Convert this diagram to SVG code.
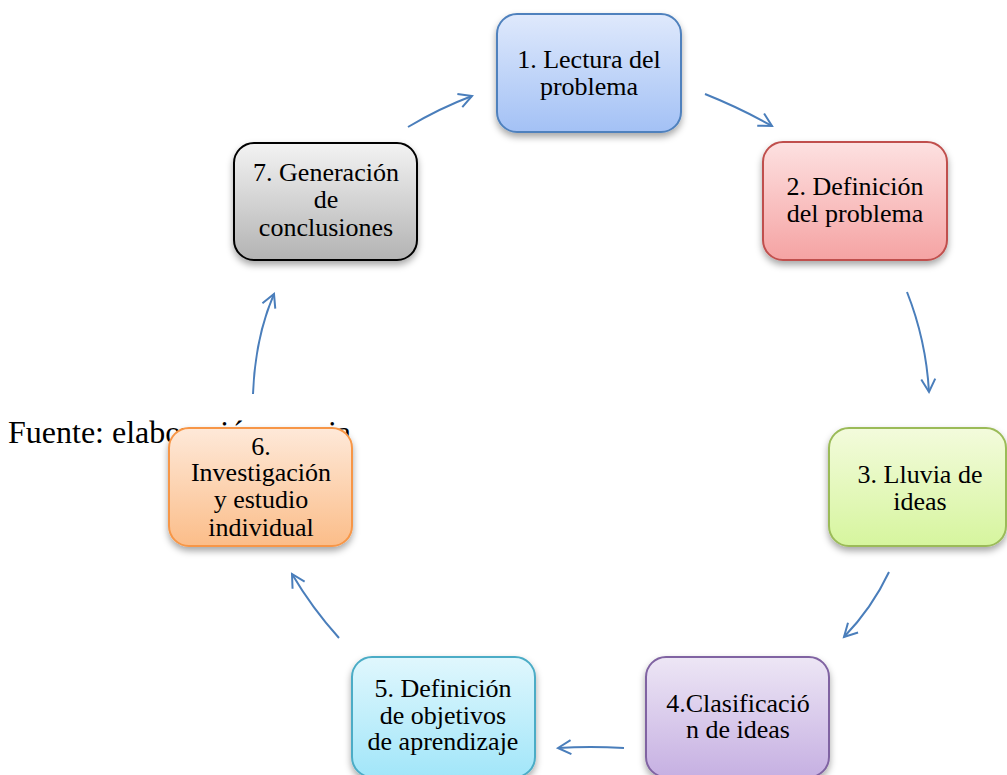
<svg xmlns="http://www.w3.org/2000/svg" width="1007" height="775" viewBox="0 0 1007 775">
<defs>
<style>
.t{font-family:"Liberation Serif","Times New Roman",serif;font-size:26px;fill:#000;text-anchor:middle}
.src{font-family:"Liberation Serif","Times New Roman",serif;font-size:32px;fill:#000}
.box{stroke-width:2}
.c{fill:none;stroke:#4a7ebb;stroke-width:2}
</style>
<filter id="sh" x="-20%" y="-20%" width="140%" height="150%">
<feDropShadow dx="0" dy="4" stdDeviation="3.5" flood-color="#000" flood-opacity="0.35"/>
</filter>
<marker id="ah" viewBox="-16 -10 20 20" refX="0" refY="0" markerWidth="20" markerHeight="20" markerUnits="userSpaceOnUse" orient="auto">
<path d="M-13,-7 L0,0 L-13,7" fill="none" stroke="#4a7ebb" stroke-width="2"/>
</marker>
<linearGradient id="g1" x1="0" y1="0" x2="0" y2="1"><stop offset="0" stop-color="#dfe9fc"/><stop offset="1" stop-color="#a3c1f5"/></linearGradient>
<linearGradient id="g2" x1="0" y1="0" x2="0" y2="1"><stop offset="0" stop-color="#fde1e1"/><stop offset="1" stop-color="#f5a3a3"/></linearGradient>
<linearGradient id="g3" x1="0" y1="0" x2="0" y2="1"><stop offset="0" stop-color="#f3fbdc"/><stop offset="1" stop-color="#d6f59e"/></linearGradient>
<linearGradient id="g4" x1="0" y1="0" x2="0" y2="1"><stop offset="0" stop-color="#ede6f5"/><stop offset="1" stop-color="#c6b0e2"/></linearGradient>
<linearGradient id="g5" x1="0" y1="0" x2="0" y2="1"><stop offset="0" stop-color="#e0f7fd"/><stop offset="1" stop-color="#a2e6f9"/></linearGradient>
<linearGradient id="g6" x1="0" y1="0" x2="0" y2="1"><stop offset="0" stop-color="#fee9d9"/><stop offset="1" stop-color="#fbbd89"/></linearGradient>
<linearGradient id="g7" x1="0" y1="0" x2="0" y2="1"><stop offset="0" stop-color="#f3f3f3"/><stop offset="1" stop-color="#b3b3b3"/></linearGradient>
</defs>
<rect width="1007" height="775" fill="#fff"/>
<text class="src" x="8" y="443">Fuente: elaboración propia</text>
<g id="connectors">
<path class="c" d="M408,127 Q440,108 472,96" marker-end="url(#ah)"/>
<path class="c" d="M705,94 Q740,108 772,126" marker-end="url(#ah)"/>
<path class="c" d="M907,292 Q926,340 929,392" marker-end="url(#ah)"/>
<path class="c" d="M889,572 Q872,608 844,637" marker-end="url(#ah)"/>
<path class="c" d="M624,748 Q590,746 558,748" marker-end="url(#ah)"/>
<path class="c" d="M339,638 Q312,608 292,574" marker-end="url(#ah)"/>
<path class="c" d="M253,394 Q255,338 274,294" marker-end="url(#ah)"/>
</g>
<g id="node1">
<rect class="box" x="497" y="14" width="184" height="118" rx="20" fill="url(#g1)" stroke="#4f81bd" filter="url(#sh)"/>
<text class="t" x="589" y="68">1. Lectura del</text>
<text class="t" x="589" y="95">problema</text>
</g>
<g id="node2">
<rect class="box" x="763" y="142" width="184" height="118" rx="20" fill="url(#g2)" stroke="#c0504d" filter="url(#sh)"/>
<text class="t" x="855" y="195">2. Definición</text>
<text class="t" x="855" y="222">del problema</text>
</g>
<g id="node3">
<rect class="box" x="829" y="428" width="177" height="118" rx="20" fill="url(#g3)" stroke="#9bbb59" filter="url(#sh)"/>
<text class="t" x="920" y="483">3. Lluvia de</text>
<text class="t" x="920" y="510">ideas</text>
</g>
<g id="node4">
<rect class="box" x="646" y="657" width="183" height="120" rx="20" fill="url(#g4)" stroke="#8064a2" filter="url(#sh)"/>
<text class="t" x="738" y="712">4.Clasificació</text>
<text class="t" x="738" y="738">n de ideas</text>
</g>
<g id="node5">
<rect class="box" x="352" y="657" width="183" height="120" rx="20" fill="url(#g5)" stroke="#4bacc6" filter="url(#sh)"/>
<text class="t" x="443" y="697">5. Definición</text>
<text class="t" x="443" y="724">de objetivos</text>
<text class="t" x="443" y="750">de aprendizaje</text>
</g>
<g id="node6">
<rect class="box" x="169" y="428" width="183" height="118" rx="20" fill="url(#g6)" stroke="#f79646" filter="url(#sh)"/>
<text class="t" x="261" y="455">6.</text>
<text class="t" x="261" y="481">Investigación</text>
<text class="t" x="261" y="508">y estudio</text>
<text class="t" x="261" y="536">individual</text>
</g>
<g id="node7">
<rect class="box" x="234" y="143" width="183" height="117" rx="20" fill="url(#g7)" stroke="#000" filter="url(#sh)"/>
<text class="t" x="326" y="181">7. Generación</text>
<text class="t" x="326" y="208">de</text>
<text class="t" x="326" y="236">conclusiones</text>
</g>
</svg>
